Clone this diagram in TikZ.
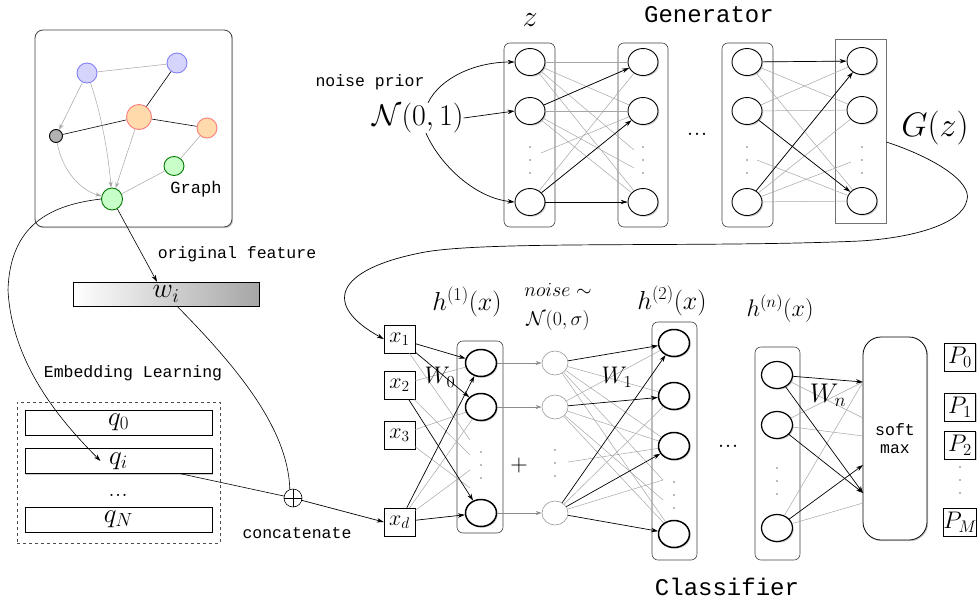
\documentclass[tikz,border=0pt]{standalone}
\usepackage{fix-cm}
\usepackage{fontspec}
\usepackage{amsmath}
\usepackage{amssymb}
\usepackage{tikz}
\usetikzlibrary{calc}
\usetikzlibrary{arrows.meta}
\usetikzlibrary{shapes.geometric}
\usetikzlibrary{shadows}

\newfontfamily\cour{Liberation Mono}
\newcommand{\fsz}[1]{\fontsize{#1}{#1}\selectfont}
\newcommand{\vdts}[2]{\foreach \k in {0,1,2} {\fill[black!55] (#1,{#2+13*\k}) circle (0.9pt);}}

\definecolor{vblue}{RGB}{212,212,252}
\definecolor{vbluel}{RGB}{130,130,250}
\definecolor{vorng}{RGB}{255,218,170}
\definecolor{vorngl}{RGB}{250,125,125}
\definecolor{vgrn}{RGB}{200,255,200}
\definecolor{vgrnl}{RGB}{0,120,0}

\tikzset{
  lab/.style={font=\fsz{16.5}\cour, inner sep=0pt},
  ttl/.style={font=\fsz{24}\cour, inner sep=0pt},
  shadowed/.style={drop shadow={shadow xshift=1.2pt, shadow yshift=-1.2pt, opacity=0.4}},
  neuron/.style={ellipse, draw, fill=white, line width=0.9pt, minimum width=30pt, minimum height=27pt, inner sep=0pt, shadowed},
  cneuron/.style={neuron, line width=1.5pt, minimum width=31pt},
  nneuron/.style={ellipse, draw=black!40, fill=white, line width=0.6pt, minimum width=26pt, minimum height=24pt, inner sep=0pt},
  layer/.style={draw=black!75, rounded corners=6pt, line width=0.6pt, inner sep=0pt},
  glink/.style={draw=black!35, line width=0.5pt},
  garrow/.style={glink, -{Stealth[length=6pt,width=4pt]}},
  blink/.style={draw=black, line width=0.7pt, -{Stealth[length=7pt,width=4.5pt]}},
  pbox/.style={draw, fill=white, inner sep=0pt, minimum width=31pt, minimum height=28pt, font=\fsz{24}, shadowed},
  qbox/.style={draw, fill=white, inner sep=0pt, minimum width=187pt, minimum height=25pt, font=\fsz{27}, shadowed},
  vnode/.style={ellipse, line width=0.9pt, inner sep=0pt, minimum width=20pt, minimum height=20pt},
  dts/.style={inner sep=0pt, anchor=base},
}

\begin{document}
\begin{tikzpicture}[x=1pt,y=-1pt]
\useasboundingbox (0,0) rectangle (977,603);

% The graph
\node[draw=black!75, fill=white, rounded corners=8pt, line width=0.8pt, minimum width=197pt, minimum height=197pt, shadowed] (graph) at (133.5,128.5) {};
\node[vnode, fill=vblue, draw=vbluel] (vb1) at (87,73) {};
\node[vnode, fill=vblue, draw=vbluel] (vb2) at (177,63) {};
\node[vnode, fill=vorng, draw=vorngl, minimum width=25pt, minimum height=25pt] (vo1) at (139,117) {};
\node[vnode, fill=vorng, draw=vorngl] (vo2) at (207,128) {};
\node[vnode, fill=black!30, draw=black, minimum width=13pt, minimum height=13pt] (vk) at (56,136) {};
\node[vnode, fill=vgrn, draw=vgrnl, minimum height=19pt] (vg1) at (174,166) {};
\node[vnode, fill=vgrn, draw=vgrnl, minimum width=21pt, minimum height=22pt] (vg2) at (112,199) {};
\node[lab, font=\fsz{17}\cour] (glab) at (196,189) {Graph};

\draw[glink] (vb1) -- (vb2);
\draw[line width=0.6pt] (vb2) -- (vo1);
\draw[line width=0.6pt] (vk) -- (vo1);
\draw[line width=0.6pt] (vo1) -- (vo2);
\draw[glink] (vo2) -- (vg1);
\draw[glink] (vg1) -- (vg2);
\draw[garrow] (vb1) -- (vk);
\draw[garrow] (vb1) .. controls (100,110) and (108,150) .. (vg2);
\draw[garrow] (vo1) -- (vg2);
\draw[garrow] (vk) .. controls (62,170) and (80,190) .. (vg2);

% Features and embeddings
\node[lab] (origlab) at (237,254) {original feature};
\node[draw, inner sep=0pt, minimum width=186pt, minimum height=24pt, left color=white, right color=black!35, font=\fsz{28}, shadowed] (wi) at (166,294) {$w_i$};
\draw[-{Stealth[length=7pt,width=4.5pt]}, line width=0.6pt] (vg2) -- ([xshift=-9pt]wi.north);

\node[lab] (emblab) at (133,373) {Embedding Learning};
\node[draw=black!70, dashed, line width=0.6pt, minimum width=203pt, minimum height=141pt] (emb) at (118.5,472.5) {};
\node[qbox] (q0) at (118.5,422.5) {$q_0$};
\node[qbox] (qi) at (118.5,461) {$q_i$};
\node[dts, font=\fsz{26}] (qdots) at (118,496) {...};
\node[qbox] (qn) at (118.5,519.5) {$q_N$};

\node[circle, draw, fill=white, line width=0.6pt, minimum size=18pt, inner sep=0pt] (cat) at (293,498) {};
\draw[line width=0.6pt] (cat.north) -- (cat.south) (cat.west) -- (cat.east);
\node[lab] (catlab) at (297,533) {concatenate};

\draw[-{Stealth[length=7pt,width=4.5pt]}, line width=0.6pt] (vg2.west) .. controls (50,205) and (10,225) .. (8,290) .. controls (12,370) and (70,430) .. ([xshift=-18pt]qi.center);
\draw[line width=0.6pt] ([xshift=11pt]wi.south) .. controls (240,370) and (288,430) .. (cat.110);
\draw[line width=0.6pt] ([xshift=62pt]qi.south) -- (cat);

% Generator
\node[ttl] (genlab) at (709,15) {Generator};
\node[font=\fsz{30}] (zlab) at (530,20) {$z$};
\node[lab] (nplab) at (370,82) {noise prior};
\node[font=\fsz{30}, inner sep=0pt] (nz) at (418,118) {$\mathcal{N}(0,1)$};
\node[font=\fsz{34}] (gzlab) at (935,128) {$G(z)$};
\node[dts, font=\fsz{28}] (gdots) at (697,135) {...};

\node[layer, minimum width=51pt, minimum height=184pt] (lz) at (529.5,135) {};
\node[layer, minimum width=50pt, minimum height=184pt] (lm) at (643,135) {};
\node[layer, minimum width=51pt, minimum height=184pt] (lk) at (747.5,135) {};
\node[draw=black!55, line width=0.8pt, minimum width=51pt, minimum height=184pt, inner sep=0pt] (lo) at (860.5,131) {};

\foreach \n/\y in {1/62,2/111,3/202} {
  \node[neuron] (z\n) at (530,\y) {};
  \node[neuron] (m\n) at (643,\y) {};
  \node[neuron] (k\n) at (747,\y) {};
  \node[neuron] (o\n) at (862,{\y-1}) {};
}
\vdts{530}{147}
\vdts{643}{147}
\vdts{747}{147}
\vdts{862}{147}

\coordinate (zd) at (541,153);
\coordinate (md1) at (634,150);
\coordinate (md2) at (634,168);
\coordinate (kd) at (757,160);
\coordinate (od) at (851,162);

\foreach \i in {1,2,3}
  \foreach \j in {1,2,3} {
    \draw[glink] (z\i) -- (m\j);
    \draw[glink] (k\i) -- (o\j);
  }
\draw[glink] (z1) -- (md1);
\draw[glink] (z2) -- (md2);
\draw[glink] (zd) -- (m2);
\draw[glink] (kd) -- (o3);
\draw[glink] (k3) -- (od);

\draw[blink] (z2) -- (m1);
\draw[blink] (z3) -- (m2);
\draw[blink] (z3) -- (m3);
\draw[blink] (k1) -- (o1);
\draw[blink] (k2) -- (o3);
\draw[blink] (k3) -- (o1);

\draw[blink] ([xshift=10pt]nz.north) .. controls (440,78) and (475,62) .. (z1.west);
\draw[blink] (nz.east) -- (z2.west);
\draw[blink] ([xshift=8pt]nz.south) .. controls (440,165) and (475,198) .. (z3.west);

% Classifier
\node[ttl] (clslab) at (727,587) {Classifier};
\node[pbox, font=\fsz{22}] (x1) at (399.5,339) {$x_1$};
\node[pbox, font=\fsz{22}] (x2) at (399.5,385) {$x_2$};
\node[pbox, font=\fsz{22}] (x3) at (399.5,435) {$x_3$};
\node[pbox, font=\fsz{22}] (xd) at (399.5,522) {$x_d$};
\draw[blink] (cat) -- (xd.west);

\draw[blink] ([yshift=-11pt]lo.east) .. controls (935,158) and (972,182) .. (967,200) .. controls (962,225) and (910,238) .. (860,241) .. controls (700,248) and (480,240) .. (420,253) .. controls (335,270) and (322,305) .. (x1.west);

\node[layer, minimum width=46pt, minimum height=192pt] (lh1) at (480,437) {};
\node[layer, minimum width=45pt, minimum height=238pt] (lh2) at (674.5,441) {};
\node[layer, minimum width=45pt, minimum height=213pt] (lhn) at (777.5,453.5) {};
\node[draw, fill=white, rounded corners=18pt, line width=0.8pt, minimum width=64pt, minimum height=203pt, inner sep=0pt, shadowed, align=center, font=\fsz{16.5}\cour] (sm) at (895,438.5) {soft\\[2pt]max};

\foreach \n/\y in {1/363,2/407,3/513} {
  \node[cneuron] (ha\n) at (481,\y) {};
  \node[nneuron] (na\n) at (555,\y) {};
}
\foreach \n/\y in {1/343,2/396,3/446,4/534}
  \node[cneuron] (hb\n) at (674,\y) {};
\foreach \n/\y in {1/375,2/425,3/528}
  \node[cneuron, line width=1.2pt] (hc\n) at (777,\y) {};

\node[pbox] (p0) at (960,357) {$P_0$};
\node[pbox] (p1) at (960,407) {$P_1$};
\node[pbox] (p2) at (960,445) {$P_2$};
\node[pbox] (pm) at (960,522) {$P_M$};

\vdts{481}{452}
\vdts{555}{450}
\vdts{674}{482}
\vdts{777}{468}
\vdts{960}{467}

\node[font=\fsz{26}] (h1lab) at (467,302) {$h^{(1)}(x)$};
\node[font=\fsz{20}] (nslab) at (558,290) {$noise\sim$};
\node[font=\fsz{20}] (nsdist) at (558,320) {$\mathcal{N}(0,\sigma)$};
\node[font=\fsz{26}] (h2lab) at (672,301) {$h^{(2)}(x)$};
\node[font=\fsz{24}] (hnlab) at (780,309) {$h^{(n)}(x)$};
\node[font=\fsz{24}] (plus) at (519,465) {$+$};
\node[dts, font=\fsz{28}] (cdots) at (728,447) {...};

% input to first hidden layer
\coordinate (hd1) at (470,440);
\coordinate (hd2) at (470,455);
\coordinate (hd3) at (470,470);
\coordinate (hd4) at (470,488);
\draw[glink] (x1) -- (hd1);
\draw[glink] (x2) -- (ha1);
\draw[glink] (x2) -- (hd2);
\draw[glink] (x3) -- (ha2);
\draw[glink] (x3) -- (hd4);
\draw[glink] (xd) -- (ha2);
\draw[glink] (xd) -- (hd3);
\draw[blink] (x1) -- (ha1);
\draw[blink] (x1) -- (ha2);
\draw[blink] (x2) -- (ha3);
\draw[blink] (xd) -- (ha1);
\draw[blink] (xd) -- (ha3);
\foreach \n in {1,2,3}
  \draw[garrow, draw=black!45] (ha\n) -- (na\n);

% noise to second hidden layer
\coordinate (nd) at (568,462);
\coordinate (hbd1) at (663,480);
\coordinate (hbd2) at (663,500);
\foreach \j in {2,3,4}
  \draw[glink] (na1) -- (hb\j);
\foreach \j in {1,3,4}
  \draw[glink] (na2) -- (hb\j);
\draw[glink] (na1) -- (hbd1);
\draw[glink] (na2) -- (hbd2);
\draw[glink] (nd) -- (hb3);
\draw[glink] (na3) -- (hb2);
\draw[glink] (na3) -- (hbd1);
\draw[blink] (na1) -- (hb1);
\draw[blink] (na2) -- (hb2);
\draw[blink] (na3) -- (hb1);
\draw[blink] (na3) -- (hb3);
\draw[blink] (na3) -- (hb4);

% last hidden layer to softmax
\coordinate (s1) at (863,382);
\coordinate (s2) at (863,418);
\coordinate (s3) at (863,436);
\coordinate (s4) at (863,465);
\coordinate (s5) at (863,493);
\coordinate (s6) at (863,503);
\draw[glink] (hc1) -- (s2);
\draw[glink] (hc2) -- (s1);
\draw[glink] (hc2) -- (s3);
\draw[glink] (hc3) -- (s1);
\draw[glink] (hc3) -- (s6);
\draw[blink] (hc1) -- (s1);
\draw[blink] (hc1) -- (s5);
\draw[blink] (hc2) -- (s5);
\draw[blink] (hc3) -- (s4);

\node[font=\fsz{24}] (w0lab) at (440,377) {$W_0$};
\node[font=\fsz{24}] (w1lab) at (617,377) {$W_1$};
\node[font=\fsz{27}] (wnlab) at (828,395) {$W_n$};
\end{tikzpicture}
\end{document}
